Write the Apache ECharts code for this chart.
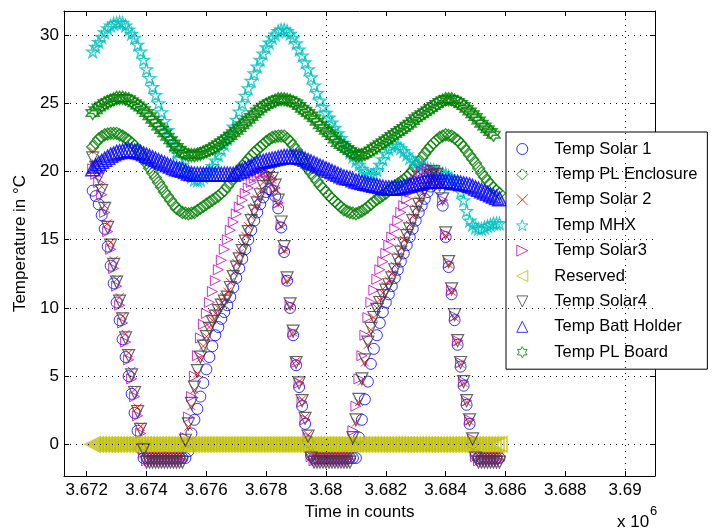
<!DOCTYPE html>
<html>
<head>
<meta charset="utf-8">
<script src="https://cdn.jsdelivr.net/npm/echarts@6/dist/echarts.min.js"></script>
<style>
  html, body { margin: 0; padding: 0; background: #fff; }
  #chart { width: 714px; height: 531px; }
</style>
</head>
<body>
<div id="chart"></div>
<script>
// sample times, in units of 10^6 counts
const t = [
  3.6722, 3.6723, 3.6724, 3.6725, 3.6726, 3.6727, 3.6728, 3.6729, 3.6730, 3.6731,
  3.6732, 3.6733, 3.6734, 3.6735, 3.6736, 3.6737, 3.6738, 3.6739, 3.6740, 3.6741,
  3.6742, 3.6743, 3.6744, 3.6745, 3.6746, 3.6747, 3.6748, 3.6749, 3.6750, 3.6751,
  3.6752, 3.6753, 3.6754, 3.6755, 3.6756, 3.6757, 3.6758, 3.6759, 3.6760, 3.6761,
  3.6762, 3.6763, 3.6764, 3.6765, 3.6766, 3.6767, 3.6768, 3.6769, 3.6770, 3.6771,
  3.6772, 3.6773, 3.6774, 3.6775, 3.6776, 3.6777, 3.6778, 3.6779, 3.6780, 3.6781,
  3.6782, 3.6783, 3.6784, 3.6785, 3.6786, 3.6787, 3.6788, 3.6789, 3.6790, 3.6791,
  3.6792, 3.6793, 3.6794, 3.6795, 3.6796, 3.6797, 3.6798, 3.6799, 3.6800, 3.6801,
  3.6802, 3.6803, 3.6804, 3.6805, 3.6806, 3.6807, 3.6808, 3.6809, 3.6810, 3.6811,
  3.6812, 3.6813, 3.6814, 3.6815, 3.6816, 3.6817, 3.6818, 3.6819, 3.6820, 3.6821,
  3.6822, 3.6823, 3.6824, 3.6825, 3.6826, 3.6827, 3.6828, 3.6829, 3.6830, 3.6831,
  3.6832, 3.6833, 3.6834, 3.6835, 3.6836, 3.6837, 3.6838, 3.6839, 3.6840, 3.6841,
  3.6842, 3.6843, 3.6844, 3.6845, 3.6846, 3.6847, 3.6848, 3.6849, 3.6850, 3.6851,
  3.6852, 3.6853, 3.6854, 3.6855, 3.6856, 3.6857, 3.6858
];

const xTicks = [3.672, 3.674, 3.676, 3.678, 3.68, 3.682, 3.684, 3.686, 3.688, 3.69];
const yTicks = [0, 5, 10, 15, 20, 25, 30];

// solar panel sensors
const tempSolar1 = [
  18.6, 18.2, 17.6, 16.8, 15.8, 14.5, 13.1, 11.8, 10.4, 9.1,
  7.7, 6.4, 5.0, 3.7, 2.3, 1.0, -0.3, -1.0, -1.0, -1.0,
  -1.0, -1.0, -1.0, -1.0, -1.0, -1.0, -1.0, -1.0, -1.0, -1.0,
  -1.0, -1.0, -0.5, 0.8, 1.8, 2.6, 3.5, 4.5, 5.5, 6.4,
  7.2, 8.0, 8.6, 9.2, 9.7, 10.2, 10.8, 11.5, 12.2, 12.9,
  13.6, 14.3, 15.0, 15.7, 16.4, 17.0, 17.6, 18.1, 18.5, 18.7,
  18.6, 18.2, 17.3, 15.9, 14.1, 12.0, 10.0, 8.0, 5.8, 4.2,
  2.8, 1.5, 0.2, -0.8, -1.0, -1.0, -1.0, -1.0, -1.0, -1.0,
  -1.0, -1.0, -1.0, -1.0, -1.0, -1.0, -1.0, -1.0, -1.0, 0.5,
  1.8, 3.3, 4.6, 5.9, 7.0, 8.0, 8.9, 9.7, 10.4, 11.0,
  11.6, 12.2, 12.8, 13.4, 14.0, 14.6, 15.2, 15.8, 16.4, 17.0,
  17.5, 18.0, 18.5, 18.9, 19.2, 19.2, 18.7, 17.5, 15.2, 13.0,
  11.0, 9.1, 7.3, 5.7, 4.3, 2.9, 1.5, 0.1, -0.8, -1.0,
  -1.0, -1.0, -1.0, -1.0, -1.0, -1.0, -1.0
];
const tempSolar2 = [
  21.5, 20.6, 19.8, 18.9, 17.5, 16.2, 14.8, 13.5, 12.1, 10.8,
  9.4, 8.1, 6.7, 5.4, 4.0, 2.7, 1.3, 0.0, -0.8, -0.8,
  -0.8, -0.8, -0.8, -0.8, -0.8, -0.8, -0.8, -0.8, -0.8, -0.8,
  -0.8, 0.0, 1.3, 2.8, 4.0, 5.2, 6.3, 7.2, 7.9, 8.6,
  9.1, 9.6, 10.0, 10.4, 10.8, 11.2, 11.9, 12.6, 13.3, 14.0,
  14.6, 15.3, 16.0, 16.7, 17.4, 18.0, 18.6, 19.2, 19.6, 19.8,
  19.4, 18.7, 17.6, 16.0, 14.2, 12.0, 10.1, 8.2, 6.1, 4.6,
  3.3, 2.0, 0.7, -0.5, -0.8, -0.8, -0.8, -0.8, -0.8, -0.8,
  -0.8, -0.8, -0.8, -0.8, -0.8, -0.8, -0.8, 0.3, 1.6, 3.1,
  4.6, 6.0, 7.3, 8.4, 9.3, 10.0, 10.6, 11.1, 11.6, 12.0,
  12.5, 13.1, 13.8, 14.4, 15.0, 15.6, 16.1, 16.7, 17.3, 17.9,
  18.5, 19.0, 19.4, 19.8, 20.2, 19.9, 19.2, 17.8, 15.3, 13.2,
  11.2, 9.3, 7.5, 5.9, 4.5, 3.1, 1.7, 0.3, -0.6, -0.8,
  -0.8, -0.8, -0.8, -0.8, -0.8, -0.8, -0.8
];
const tempSolar3 = [
  20.2, 19.8, 19.2, 18.3, 17.0, 15.6, 14.3, 12.9, 11.6, 10.2,
  8.9, 7.5, 6.2, 4.8, 3.5, 2.1, 0.8, -0.6, -1.2, -1.2,
  -1.2, -1.2, -1.2, -1.2, -1.2, -1.2, -1.2, -1.2, -1.2, -1.2,
  -1.2, 0.5, 2.0, 3.5, 5.0, 6.5, 7.8, 8.8, 9.6, 10.4,
  11.2, 12.0, 12.8, 13.5, 14.3, 15.0, 15.7, 16.3, 16.9, 17.4,
  17.9, 18.4, 18.8, 19.2, 19.5, 19.7, 19.9, 20.0, 19.9, 19.7,
  19.4, 18.8, 17.7, 16.1, 14.3, 12.1, 10.2, 8.2, 6.0, 4.5,
  3.1, 1.8, 0.5, -0.9, -1.2, -1.2, -1.2, -1.2, -1.2, -1.2,
  -1.2, -1.2, -1.2, -1.2, -1.2, -1.2, -1.2, 1.0, 2.8, 4.8,
  6.5, 8.0, 9.3, 10.4, 11.3, 12.1, 12.8, 13.4, 14.0, 14.6,
  15.2, 15.8, 16.4, 17.0, 17.5, 18.0, 18.5, 19.0, 19.4, 19.7,
  20.0, 20.1, 20.2, 20.2, 20.1, 19.8, 19.0, 17.9, 15.4, 13.3,
  11.3, 9.4, 7.6, 6.0, 4.6, 3.2, 1.8, 0.4, -0.9, -1.2,
  -1.2, -1.2, -1.2, -1.2, -1.2, -1.2, -1.2
];
const tempSolar4 = [
  21.0, 20.3, 19.6, 18.6, 17.3, 15.9, 14.6, 13.2, 11.9, 10.5,
  9.2, 7.8, 6.5, 5.1, 3.8, 2.4, 1.1, -0.4, -1.3, -1.3,
  -1.3, -1.3, -1.3, -1.3, -1.3, -1.3, -1.3, -1.3, -1.3, -1.3,
  -1.3, 0.3, 1.5, 3.0, 4.2, 5.4, 6.4, 7.2, 7.9, 8.5,
  9.0, 9.4, 9.8, 10.2, 10.5, 10.8, 11.5, 12.3, 13.0, 13.6,
  14.2, 14.9, 15.6, 16.4, 17.1, 17.7, 18.3, 18.9, 19.5, 19.9,
  19.5, 19.0, 17.9, 16.3, 14.5, 12.2, 10.3, 8.3, 6.0, 4.5,
  3.2, 1.9, 0.6, -1.0, -1.3, -1.3, -1.3, -1.3, -1.3, -1.3,
  -1.3, -1.3, -1.3, -1.3, -1.3, -1.3, -1.3, 0.5, 1.8, 3.3,
  4.8, 6.2, 7.5, 8.5, 9.3, 9.9, 10.4, 10.9, 11.3, 11.7,
  12.2, 12.8, 13.5, 14.1, 14.7, 15.3, 15.8, 16.4, 17.0, 17.6,
  18.2, 18.7, 19.2, 19.7, 20.0, 19.8, 19.0, 18.0, 15.5, 13.4,
  11.4, 9.5, 7.6, 6.0, 4.6, 3.2, 1.8, 0.4, -1.0, -1.3,
  -1.3, -1.3, -1.3, -1.3, -1.3, -1.3, -1.3
];

// slow sensors
const tempPLEnclosure = [
  21.8, 22.1, 22.4, 22.55, 22.7, 22.75, 22.8, 22.8, 22.8, 22.7,
  22.6, 22.45, 22.3, 22.1, 21.9, 21.6, 21.3, 20.95, 20.6, 20.25,
  19.9, 19.55, 19.2, 18.85, 18.5, 18.2, 17.9, 17.6, 17.3, 17.15,
  17.0, 16.95, 16.9, 16.95, 17.0, 17.15, 17.3, 17.45, 17.6, 17.75,
  17.9, 18.05, 18.2, 18.4, 18.6, 18.9, 19.2, 19.5, 19.8, 20.1,
  20.4, 20.65, 20.9, 21.15, 21.4, 21.6, 21.8, 22.0, 22.2, 22.35,
  22.5, 22.55, 22.6, 22.6, 22.6, 22.4, 22.2, 21.9, 21.6, 21.25,
  20.9, 20.55, 20.2, 19.9, 19.6, 19.3, 19.0, 18.75, 18.5, 18.25,
  18.0, 17.8, 17.6, 17.4, 17.2, 17.1, 17.0, 16.95, 16.9, 17.0,
  17.1, 17.25, 17.4, 17.6, 17.8, 17.95, 18.1, 18.25, 18.4, 18.6,
  18.8, 18.95, 19.1, 19.25, 19.4, 19.6, 19.8, 20.1, 20.4, 20.7,
  21.0, 21.3, 21.6, 21.85, 22.1, 22.3, 22.5, 22.6, 22.7, 22.65,
  22.6, 22.45, 22.3, 22.05, 21.8, 21.5, 21.2, 20.9, 20.6, 20.25,
  19.9, 19.6, 19.3, 19.05, 18.8, 18.6, 18.4
];
const tempMHX = [
  28.8, 29.15, 29.5, 29.85, 30.2, 30.5, 30.7, 30.85, 30.9, 30.95,
  30.9, 30.7, 30.4, 30.1, 29.8, 29.3, 28.8, 28.2, 27.5, 26.85,
  26.2, 25.6, 25.0, 24.35, 23.7, 23.05, 22.4, 21.9, 21.4, 20.95,
  20.5, 20.1, 19.8, 19.6, 19.4, 19.35, 19.4, 19.6, 19.8, 20.1,
  20.4, 20.8, 21.2, 21.6, 22.0, 22.4, 22.8, 23.3, 23.8, 24.4,
  25.0, 25.55, 26.1, 26.65, 27.2, 27.7, 28.2, 28.65, 29.1, 29.45,
  29.8, 30.05, 30.3, 30.4, 30.4, 30.3, 30.1, 29.8, 29.4, 28.95,
  28.5, 28.0, 27.5, 26.9, 26.3, 25.75, 25.2, 24.75, 24.3, 23.95,
  23.6, 23.2, 22.8, 22.45, 22.1, 21.75, 21.4, 21.1, 20.8, 20.5,
  20.2, 20.0, 19.8, 19.7, 19.8, 20.1, 20.5, 20.9, 21.3, 21.65,
  21.9, 22.0, 21.9, 21.7, 21.5, 21.25, 21.0, 20.8, 20.6, 20.5,
  20.4, 20.3, 20.2, 20.15, 20.1, 20.0, 19.9, 19.85, 19.8, 19.65,
  19.5, 19.3, 19.0, 18.5, 17.9, 17.1, 16.4, 16.1, 15.9, 15.8,
  15.8, 15.9, 16.0, 16.1, 16.2, 16.2, 16.2
];
const reserved = [
  0, 0, 0, 0, 0, 0, 0, 0, 0, 0,
  0, 0, 0, 0, 0, 0, 0, 0, 0, 0,
  0, 0, 0, 0, 0, 0, 0, 0, 0, 0,
  0, 0, 0, 0, 0, 0, 0, 0, 0, 0,
  0, 0, 0, 0, 0, 0, 0, 0, 0, 0,
  0, 0, 0, 0, 0, 0, 0, 0, 0, 0,
  0, 0, 0, 0, 0, 0, 0, 0, 0, 0,
  0, 0, 0, 0, 0, 0, 0, 0, 0, 0,
  0, 0, 0, 0, 0, 0, 0, 0, 0, 0,
  0, 0, 0, 0, 0, 0, 0, 0, 0, 0,
  0, 0, 0, 0, 0, 0, 0, 0, 0, 0,
  0, 0, 0, 0, 0, 0, 0, 0, 0, 0,
  0, 0, 0, 0, 0, 0, 0, 0, 0, 0,
  0, 0, 0, 0, 0, 0, 0
];
const tempBattHolder = [
  20.2, 20.4, 20.6, 20.75, 20.9, 21.05, 21.2, 21.3, 21.4, 21.45,
  21.5, 21.55, 21.6, 21.55, 21.5, 21.45, 21.4, 21.3, 21.2, 21.1,
  21.0, 20.9, 20.8, 20.7, 20.6, 20.5, 20.4, 20.3, 20.2, 20.15,
  20.1, 20.0, 19.9, 19.85, 19.8, 19.8, 19.8, 19.8, 19.8, 19.8,
  19.8, 19.8, 19.8, 19.8, 19.8, 19.8, 19.8, 19.8, 19.9, 20.0,
  20.1, 20.2, 20.3, 20.4, 20.5, 20.6, 20.7, 20.75, 20.8, 20.85,
  20.9, 20.95, 21.0, 21.05, 21.1, 21.1, 21.1, 21.1, 21.1, 21.05,
  21.0, 20.9, 20.8, 20.7, 20.6, 20.5, 20.4, 20.3, 20.2, 20.1,
  20.0, 19.9, 19.8, 19.7, 19.6, 19.55, 19.5, 19.4, 19.3, 19.25,
  19.2, 19.15, 19.1, 19.05, 19.0, 18.95, 18.9, 18.85, 18.8, 18.8,
  18.8, 18.8, 18.8, 18.85, 18.9, 18.95, 19.0, 19.05, 19.1, 19.15,
  19.2, 19.25, 19.3, 19.3, 19.3, 19.3, 19.3, 19.3, 19.3, 19.3,
  19.2, 19.2, 19.2, 19.15, 19.1, 19.05, 19.0, 18.9, 18.8, 18.7,
  18.6, 18.5, 18.4, 18.3, 18.2, 18.1, 18.0
];
const tempPLBoard = [
  24.3, 24.5, 24.7, 24.85, 25.0, 25.1, 25.2, 25.3, 25.4, 25.4,
  25.4, 25.35, 25.3, 25.15, 25.0, 24.85, 24.7, 24.5, 24.3, 24.05,
  23.8, 23.55, 23.3, 23.05, 22.8, 22.55, 22.3, 22.05, 21.8, 21.6,
  21.4, 21.3, 21.2, 21.2, 21.2, 21.25, 21.3, 21.4, 21.5, 21.6,
  21.7, 21.85, 22.0, 22.15, 22.3, 22.45, 22.6, 22.8, 23.0, 23.2,
  23.4, 23.6, 23.8, 24.0, 24.2, 24.4, 24.6, 24.75, 24.9, 25.0,
  25.1, 25.2, 25.3, 25.3, 25.3, 25.25, 25.2, 25.1, 25.0, 24.8,
  24.6, 24.45, 24.3, 24.1, 23.9, 23.65, 23.4, 23.2, 23.0, 22.8,
  22.6, 22.35, 22.1, 21.95, 21.8, 21.65, 21.5, 21.35, 21.2, 21.2,
  21.2, 21.3, 21.4, 21.55, 21.7, 21.85, 22.0, 22.15, 22.3, 22.45,
  22.6, 22.75, 22.9, 23.05, 23.2, 23.35, 23.5, 23.7, 23.9, 24.05,
  24.2, 24.35, 24.5, 24.65, 24.8, 24.95, 25.1, 25.2, 25.3, 25.3,
  25.3, 25.2, 25.1, 24.95, 24.8, 24.6, 24.4, 24.2, 24.0, 23.75,
  23.5, 23.3, 23.1, 22.9, 22.7, null, null
];

const FONT = 'Liberation Sans';

// matlab-like open markers
const SYM = {
  diamond: 'path://M0,-1L1,0L0,1L-1,0Z',
  cross: 'path://M-1,-1L1,1M-1,1L1,-1',
  pentagram: 'path://M0,-1L0.225,-0.309L0.951,-0.309L0.363,0.118L0.588,0.809L0,0.382L-0.588,0.809L-0.363,0.118L-0.951,-0.309L-0.225,-0.309Z',
  right: 'path://M-1,-1L1,0L-1,1Z',
  left: 'path://M1,-1L-1,0L1,1Z',
  down: 'path://M-1,-1L1,-1L0,1Z',
  up: 'path://M0,-1L1,1L-1,1Z',
  hexagram: 'path://M0,-1L0.289,-0.5L0.866,-0.5L0.577,0L0.866,0.5L0.289,0.5L0,1L-0.289,0.5L-0.866,0.5L-0.577,0L-0.866,-0.5L-0.289,-0.5Z'
};

const pairs = v => {
  const out = [];
  v.forEach((y, i) => { if (y !== null) out.push([t[i], y]); });
  return out;
};

const scatter = (name, v, symbol, color, size, stroke = 1) => ({
  name,
  type: 'scatter',
  data: pairs(v),
  symbol,
  symbolSize: size,
  itemStyle: { color: 'rgba(0,0,0,0)', borderColor: color, borderWidth: stroke },
  emphasis: { disabled: true },
  silent: true
});

const axisText = { fontFamily: FONT, fontSize: 17, color: '#000' };
const tickLine = { color: '#000', width: 1 };
const fmtX = v => String(+v.toFixed(3));

// dotted grid, drawn under the first series
const gridLines = {
  silent: true,
  symbol: ['none', 'none'],
  label: { show: false },
  lineStyle: { color: '#000', width: 1, type: [1, 5] },
  emphasis: { disabled: true },
  animation: false,
  data: xTicks.map(v => ({ xAxis: v })).concat(yTicks.map(v => ({ yAxis: v })))
};

const chart = echarts.init(document.getElementById('chart'));

const series = [
  scatter('Temp Solar 1', tempSolar1, 'circle', '#0000ff', 11),
  scatter('Temp PL Enclosure', tempPLEnclosure, SYM.diamond, '#008000', 12, 1.3),
  scatter('Temp Solar 2', tempSolar2, SYM.cross, '#ff0000', 8),
  scatter('Temp MHX', tempMHX, SYM.pentagram, '#00bfbf', 12, 1.3),
  scatter('Temp Solar3', tempSolar3, SYM.right, '#bf00bf', 10),
  scatter('Reserved', reserved, SYM.left, '#bfbf00', 15, 1.6),
  scatter('Temp Solar4', tempSolar4, SYM.down, '#404040', 12, 1.2),
  scatter('Temp Batt Holder', tempBattHolder, SYM.up, '#0000ff', 14, 1.5),
  scatter('Temp PL Board', tempPLBoard, SYM.hexagram, '#008000', 13, 1.5)
];
series[0].markLine = gridLines;

chart.setOption({
  backgroundColor: '#fff',
  animation: false,
  grid: { left: 64, right: 59, top: 11, bottom: 55 },
  xAxis: [
    {
      type: 'value', min: 3.67124, max: 3.691, position: 'bottom',
      name: 'Time in counts', nameLocation: 'middle', nameGap: 28,
      nameTextStyle: axisText,
      axisLine: { show: true, onZero: false, lineStyle: tickLine },
      axisTick: { show: true, inside: true, length: 5, customValues: xTicks, lineStyle: tickLine },
      axisLabel: { customValues: xTicks, formatter: fmtX, margin: 6, ...axisText },
      splitLine: { show: false }
    },
    {
      type: 'value', min: 3.67124, max: 3.691, position: 'top',
      axisLine: { show: true, onZero: false, lineStyle: tickLine },
      axisTick: { show: true, inside: true, length: 5, customValues: xTicks, lineStyle: tickLine },
      axisLabel: { show: false },
      splitLine: { show: false }
    }
  ],
  yAxis: [
    {
      type: 'value', min: -2.32, max: 31.77, position: 'left',
      name: 'Temperature in °C', nameLocation: 'middle', nameGap: 33,
      nameTextStyle: axisText,
      axisLine: { show: true, onZero: false, lineStyle: tickLine },
      axisTick: { show: true, inside: true, length: 5, customValues: yTicks, lineStyle: tickLine },
      axisLabel: { customValues: yTicks, margin: 5, ...axisText },
      splitLine: { show: false }
    },
    {
      type: 'value', min: -2.32, max: 31.77, position: 'right',
      axisLine: { show: true, onZero: false, lineStyle: tickLine },
      axisTick: { show: true, inside: true, length: 5, customValues: yTicks, lineStyle: tickLine },
      axisLabel: { show: false },
      splitLine: { show: false }
    }
  ],
  legend: {
    orient: 'vertical',
    left: 506,
    top: 132,
    padding: [8.5, 10, 8.5, 10],
    itemWidth: 54,
    itemHeight: 11,
    itemGap: 8.4,
    symbolKeepAspect: true,
    selectedMode: false,
    backgroundColor: '#fff',
    borderColor: '#000',
    borderWidth: 1,
    borderRadius: 0,
    itemStyle: { borderWidth: 1 },
    textStyle: { fontFamily: FONT, fontSize: 16.5, lineHeight: 17, color: '#000' }
  },
  graphic: [
    { type: 'text', left: 617, top: 514, style: { text: 'x 10', font: '17px "Liberation Sans"', fill: '#000' } },
    { type: 'text', left: 650, top: 505, style: { text: '6', font: '13px "Liberation Sans"', fill: '#000' } }
  ],
  series
});
</script>
</body>
</html>
